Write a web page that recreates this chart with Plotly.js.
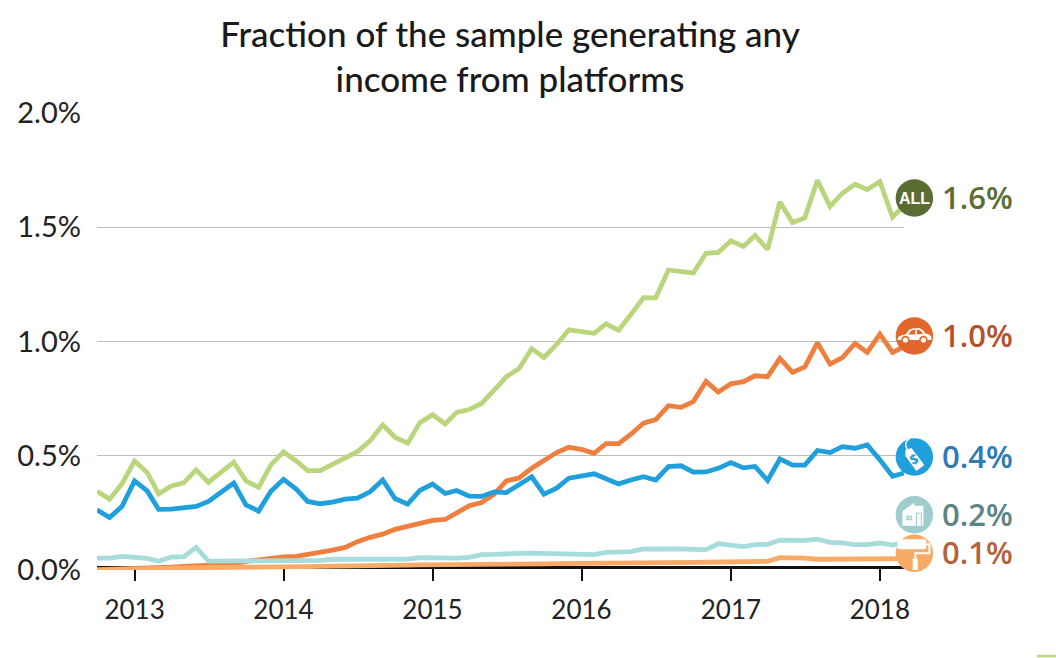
<!DOCTYPE html>
<html>
<head>
<meta charset="utf-8">
<script src="https://cdn.plot.ly/plotly-3.0.1.min.js"></script>
<style>html,body{margin:0;padding:0;background:#fff}</style>
</head>
<body>
<div id="chart" style="width:1056px;height:658px"></div>
<script>
const months = [
 '2012-10-01','2012-11-01','2012-12-01',
 '2013-01-01','2013-02-01','2013-03-01','2013-04-01','2013-05-01','2013-06-01','2013-07-01','2013-08-01','2013-09-01','2013-10-01','2013-11-01','2013-12-01',
 '2014-01-01','2014-02-01','2014-03-01','2014-04-01','2014-05-01','2014-06-01','2014-07-01','2014-08-01','2014-09-01','2014-10-01','2014-11-01','2014-12-01',
 '2015-01-01','2015-02-01','2015-03-01','2015-04-01','2015-05-01','2015-06-01','2015-07-01','2015-08-01','2015-09-01','2015-10-01','2015-11-01','2015-12-01',
 '2016-01-01','2016-02-01','2016-03-01','2016-04-01','2016-05-01','2016-06-01','2016-07-01','2016-08-01','2016-09-01','2016-10-01','2016-11-01','2016-12-01',
 '2017-01-01','2017-02-01','2017-03-01','2017-04-01','2017-05-01','2017-06-01','2017-07-01','2017-08-01','2017-09-01','2017-10-01','2017-11-01','2017-12-01',
 '2018-01-01','2018-02-01','2018-03-01'];

const allPlatforms = [.344,.310,.377,.477,.427,.333,.368,.381,.438,.383,.428,.472,.390,.362,.460,.517,.477,.435,.435,.464,.489,.518,.565,.635,.581,.555,.645,.680,.639,.690,.702,.729,.787,.846,
 .882,.969,.930,.987,1.051,1.045,1.036,1.077,1.049,1.118,1.192,1.191,1.313,1.306,1.300,1.386,1.390,1.441,1.416,1.464,1.403,1.611,1.521,1.541,1.706,1.591,1.649,1.688,1.665,1.700,1.544,1.595];
const transport = [.002,.003,.004,.006,.008,.010,.013,.016,.018,.020,.022,.026,.038,.045,.049,.057,.060,.068,.076,.087,.099,.124,.143,.157,.178,.191,.208,.217,.221,.249,.281,.295,.332,.390,
 .403,.445,.482,.514,.537,.528,.511,.553,.553,.594,.643,.658,.719,.712,.737,.825,.779,.815,.824,.850,.846,.926,.865,.889,.994,.901,.930,.991,.952,1.032,.952,.977];
const sellingGoods = [.263,.230,.278,.390,.346,.265,.266,.271,.278,.300,.341,.381,.285,.258,.345,.397,.354,.300,.290,.297,.310,.314,.342,.394,.313,.288,.348,.376,.335,.348,.323,.322,.342,.339,
 .373,.408,.332,.358,.402,.409,.421,.399,.377,.394,.408,.394,.453,.456,.428,.429,.445,.470,.447,.453,.392,.486,.459,.459,.523,.514,.540,.533,.547,.482,.410,.424];
const leasing = [.052,.052,.060,.055,.051,.038,.057,.058,.099,.039,.039,.038,.039,.038,.038,.038,.038,.039,.042,.047,.047,.049,.051,.051,.051,.048,.054,.052,.049,.052,.055,.067,.068,.073,
 .073,.074,.073,.068,.071,.071,.067,.077,.076,.080,.092,.093,.093,.092,.090,.089,.115,.111,.102,.111,.112,.131,.128,.130,.135,.121,.119,.111,.111,.118,.109,.122];
const nonTransport = [.000,.002,.004,.005,.006,.007,.008,.009,.010,.010,.011,.012,.012,.013,.014,.014,.015,.015,.016,.016,.017,.018,.019,.020,.021,.021,.022,.022,.023,.023,.024,.024,.025,.026,
 .026,.027,.027,.028,.028,.029,.029,.030,.030,.031,.032,.032,.033,.033,.033,.034,.034,.034,.034,.035,.038,.054,.055,.052,.047,.047,.051,.051,.051,.051,.050,.050];

const seriesNames = ['All platforms','Transportation','Selling goods','Leasing','Non-transport services'];
const endLabels = ['1.6%','1.0%','0.4%','0.2%','0.1%'];
const yTicks = [0,0.5,1,1.5,2];
const yTickLabels = ['0.0%','0.5%','1.0%','1.5%','2.0%'];
const yearTicks = ['2013-01-01','2014-01-01','2015-01-01','2016-01-01','2017-01-01','2018-01-01'];
const yearLabels = ['2013','2014','2015','2016','2017','2018'];

const lineColors = ['#b9d67d','#ef7f3f','#1fa0dc','#a6dcdb','#f8ab66'];
const badgeColors = ['#5a6e33','#e2672c','#1fa0dc','#9fcdcd','#f8ab66'];
const textColors = ['#5a6e33','#b5512c','#2e7ab6','#5b8484','#b4633b'];
const badgeX = '2018-03-27';
const badgeY = [1.628,1.024,0.495,0.242,0.073];

const values = [allPlatforms,transport,sellingGoods,leasing,nonTransport];
const traces = values.map((v,i)=>({
  type:'scatter',mode:'lines',name:seriesNames[i],x:months,y:v,cliponaxis:false,
  line:{color:lineColors[i],width:4.8,shape:'linear'},hoverinfo:'skip'
}));
traces.push({
  type:'scatter',mode:'markers',x:badgeY.map(()=>badgeX),y:badgeY,xaxis:'x2',yaxis:'y2',cliponaxis:false,
  marker:{size:37.5,color:badgeColors,line:{width:0}},hoverinfo:'skip'
});

const font = 'Lato, "Open Sans", sans-serif';
const annotations = endLabels.map((t,i)=>({
  x:badgeX,y:badgeY[i],xref:'x2',yref:'y2',text:t,showarrow:false,xanchor:'left',xshift:26,yshift:1,
  font:{family:'"Open Sans", sans-serif',size:31,color:textColors[i],weight:600}
}));
annotations.push({x:badgeX,y:badgeY[0],xref:'x2',yref:'y2',text:'ALL',showarrow:false,
  font:{family:'"Liberation Sans Narrow","Liberation Sans",sans-serif',size:16,color:'#fff',weight:700}});
annotations.push({x:badgeX,y:badgeY[2],xref:'x2',yref:'y2',text:'$',showarrow:false,textangle:-25,yshift:-2,xshift:0,
  font:{family:'"Noto Sans",sans-serif',size:14,color:'#1fa0dc',weight:700}});

function icon(yv,path,fill,line){
  return {type:'path',xref:'x2',yref:'y2',xsizemode:'pixel',ysizemode:'pixel',xanchor:badgeX,yanchor:yv,
    path:path,fillcolor:fill,line:line||{width:0},layer:'above'};
}
function circlePath(cx,cy,r){
  const k=0.5523*r;
  return `M${cx-r} ${cy} C${cx-r} ${cy+k} ${cx-k} ${cy+r} ${cx} ${cy+r} C${cx+k} ${cy+r} ${cx+r} ${cy+k} ${cx+r} ${cy} C${cx+r} ${cy-k} ${cx+k} ${cy-r} ${cx} ${cy-r} C${cx-k} ${cy-r} ${cx-r} ${cy-k} ${cx-r} ${cy} Z`;
}
function rectPath(x0,y0,x1,y1){
  return `M${x0} ${y0} L${x1} ${y0} L${x1} ${y1} L${x0} ${y1} Z`;
}
const shapes = [
  // car
  icon(badgeY[1],'M-17 -4 C-17 0 -13 1 -9 1.5 L-5 6.5 Q-2 8 3 8 Q8 8 11 2.5 Q16 1.5 17 -1 L17 -4 Z','#fff'),
  icon(badgeY[1],'M-6 1.5 L-3 5.5 Q-1 6.5 1 6.5 L1 1.5 Z','#e2672c'),
  icon(badgeY[1],'M2.5 6.5 Q6.5 6.5 8.5 2 L2.5 1.5 Z','#e2672c'),
  icon(badgeY[1],circlePath(-9,-4,3.4),'#fff',{color:'#e2672c',width:1.6}),
  icon(badgeY[1],circlePath(9,-4,3.4),'#fff',{color:'#e2672c',width:1.6}),
  // price tag
  icon(badgeY[2],'M-9 7 L-3 9 L10 -8 L2 -14 L-9 1 Z','#fff'),
  icon(badgeY[2],'M-7 7 C-10 12 -9 16 -5 18','rgba(0,0,0,0)',{color:'#fff',width:1.5}),
  // house
  icon(badgeY[3],'M-12 3.5 L0 12 L0 9 L9 9 L9 -11 L-12 -11 Z','#fff'),
  icon(badgeY[3],rectPath(-8,-1,-5.5,-3),'#9fcdcd'),
  icon(badgeY[3],rectPath(-5,-1,-2.5,-3),'#9fcdcd'),
  icon(badgeY[3],rectPath(-8,-3.6,-5.5,-5.6),'#9fcdcd'),
  icon(badgeY[3],rectPath(-5,-3.6,-2.5,-5.6),'#9fcdcd'),
  icon(badgeY[3],rectPath(1.5,2,7.5,-11),'#9fcdcd'),
  icon(badgeY[3],rectPath(2.7,1,6.5,-11),'#fff'),
  // paint roller
  icon(badgeY[4],'M-15 14 H10 Q12 14 12 12 V6 Q12 4 10 4 H-15 Q-17 4 -17 6 V12 Q-17 14 -15 14 Z','#fff'),
  icon(badgeY[4],'M12 10 H16 V-1 H2 V-5 H0 V1 H14 V8 H12 Z','#fff'),
  icon(badgeY[4],rectPath(-1.7,-5,3.3,-17),'#fff'),
  // bottom-right crop fragment
  {type:'rect',xref:'paper',yref:'paper',x0:(1037-97.3)/958.7,x1:1,y0:-87.5/458,y1:-85/458,fillcolor:'#b9d67d',line:{width:0}}
];

const layout = {
  width:1056,height:658,
  margin:{l:97.3,r:0,t:112.5,b:87.5,pad:0},
  paper_bgcolor:'#fff',plot_bgcolor:'rgba(0,0,0,0)',showlegend:false,
  title:{text:'Fraction of the sample generating any<br>income from platforms',x:510/1056,xanchor:'center',xref:'container',
    y:1-46.5/658,yanchor:'middle',yref:'container',font:{family:font,size:35,color:'#1a1a1a',weight:500}},
  xaxis:{type:'date',domain:[0,806.7/958.7],range:['2012-10-01','2018-03-01'],tickvals:yearTicks,ticktext:yearLabels,
    anchor:'free',position:3/458,showline:true,linecolor:'#111',linewidth:2.5,ticks:'outside',ticklen:12,tickwidth:2,tickcolor:'#111',ticklabelstandoff:7,
    showgrid:false,zeroline:false,layer:'below traces',tickangle:0,tickfont:{family:font,size:26,color:'#222'}},
  yaxis:{range:[0,2],tickvals:yTicks,ticktext:yTickLabels,showgrid:true,gridcolor:'#bcbcbc',gridwidth:1.2,zeroline:false,
    showline:false,ticks:'',ticklabelstandoff:15,tickfont:{family:font,size:29,color:'#222'}},
  xaxis2:{type:'date',domain:[0,1],range:['2012-10-01','2019-03-09'],visible:false,anchor:'y2'},
  yaxis2:{range:[0,2],visible:false,anchor:'x2',overlaying:'y'},
  annotations:annotations,shapes:shapes
};
Plotly.newPlot('chart',traces,layout,{displayModeBar:false,staticPlot:true});
</script>
</body>
</html>
